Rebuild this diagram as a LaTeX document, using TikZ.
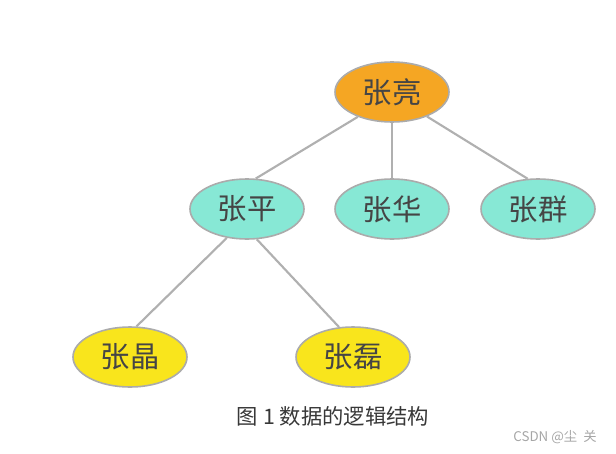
\documentclass[tikz,border=0pt]{standalone}
\usepackage{fontspec}
\setmainfont{Noto Sans CJK SC}
\usepackage{tikz}
\usetikzlibrary{shapes.geometric}

\definecolor{rootorange}{HTML}{F5A623}
\definecolor{midteal}{HTML}{87E8D5}
\definecolor{leafyellow}{HTML}{F9E51C}
\definecolor{rimgray}{HTML}{ABABAB}
\definecolor{linkgray}{HTML}{B0B0B0}
\definecolor{namegray}{HTML}{454545}

\begin{document}
\begin{tikzpicture}[x=0.75pt,y=-0.75pt,
  person/.style={ellipse, draw=rimgray, line width=1.2pt, minimum width=85.5pt,
    minimum height=45pt, inner sep=0pt, text=namegray, font=\fontsize{22}{26}\selectfont},
  link/.style={draw=linkgray, line width=1.6pt}]
\useasboundingbox (0,0) rectangle (616,453);

  \node[person, fill=rootorange] (zl) at (392,92) {张亮};

  \node[person, fill=midteal] (zp) at (247,209) {张平};
  \node[person, fill=midteal] (zh) at (392,209) {张华};
  \node[person, fill=midteal] (zq) at (538,209) {张群};

  \node[person, fill=leafyellow] (zj) at (130,357) {张晶};
  \node[person, fill=leafyellow] (zlei) at (353,357) {张磊};

  \draw[link] (zl.216) -- (zp.74);
  \draw[link] (zl.south) -- (zh.north);
  \draw[link] (zl.-35) -- (zq.109);
  \draw[link] (zp.235) -- (zj.78);
  \draw[link] (zp.-72) -- (zlei.115);

  \node[text=black!78, font=\fontsize{16}{19}\selectfont] (cap) at (333,416) {图 1 数据的逻辑结构};
  \node[text=black!35, font=\fontsize{10}{12}\selectfont] (mark) at (555,437) {CSDN @尘\ \ 关};
\end{tikzpicture}
\end{document}
